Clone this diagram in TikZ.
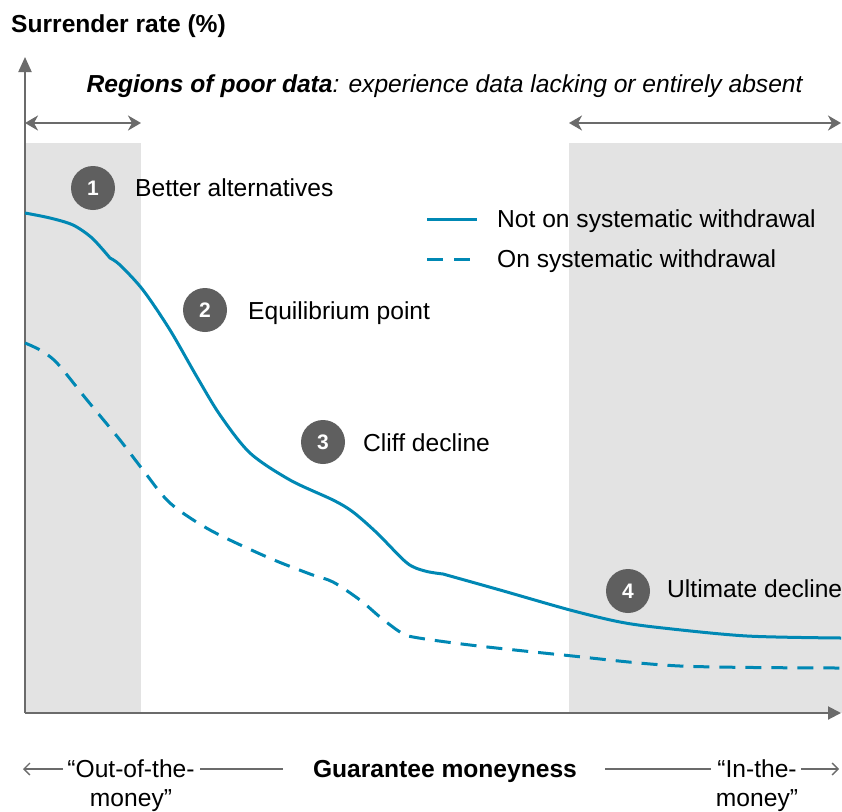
\documentclass[tikz,border=0pt]{standalone}
\usepackage{fontspec}
\setmainfont{Liberation Sans}
\usetikzlibrary{arrows.meta}

\definecolor{curveblue}{HTML}{0088B4}
\definecolor{poorgray}{HTML}{E3E3E3}
\definecolor{axisgray}{HTML}{6B6B6B}
\definecolor{dotgray}{HTML}{5F5F5F}

\begin{document}
\begin{tikzpicture}[x=1pt, y=-1pt,
  txt/.style={font=\fontsize{24.6}{29}\selectfont, inner sep=0pt},
  num/.style={circle, fill=dotgray, minimum size=44pt, inner sep=0pt, text=white, font=\fontsize{21}{24}\selectfont\bfseries},
  axis/.style={draw=axisgray, line width=2pt},
  span/.style={draw=axisgray, line width=2pt, {Stealth[length=13pt,width=15pt,inset=4pt]}-{Stealth[length=13pt,width=15pt,inset=4pt]}},
  guide/.style={draw=axisgray, line width=1.3pt},
  rate/.style={draw=curveblue, line width=3pt},
  swrate/.style={rate, dash pattern=on 16pt off 10pt}]
  \useasboundingbox (0,0) rectangle (842,811);

  % regions of poor data
  \fill[poorgray] (25,143) rectangle (141,713);
  \fill[poorgray] (569,143) rectangle (842,713);

  % axes
  \coordinate (O) at (25,713);
  \coordinate (Y) at (25,57);
  \coordinate (X) at (841,713);
  \draw[axis, -{Triangle[length=15pt,width=13pt]}] (O) -- (Y);
  \draw[axis, -{Triangle[length=13pt,width=13pt]}] (O) -- (X);

  \node[txt, anchor=base west] (T) at (11,32) {\textbf{Surrender rate (\%)}};
  \node[txt, anchor=base] (R) at (445,92) {\textit{\textbf{Regions of poor data}: experience data lacking or entirely absent}};

  \coordinate (L1) at (25,123);
  \coordinate (L2) at (141,123);
  \coordinate (R1) at (569,123);
  \coordinate (R2) at (841,123);
  \draw[span] (L1) -- (L2);
  \draw[span] (R1) -- (R2);

  % curves
  \draw[rate] plot[smooth] coordinates {(25,213) (50,218) (73,225) (92,238) (110,258)}
    -- plot[smooth] coordinates {(110,258) (120,265) (143,290) (170,330) (197,377) (220,415) (250,453) (290,480) (333,500) (353,512) (377,533) (407,563) (425,571) (443,574)}
    -- plot[smooth] coordinates {(443,574) (500,590) (570,610) (620,622) (663,628) (747,636) (841,638)};
  \draw[swrate] plot[smooth] coordinates {(25,343) (40,350) (57,363) (87,400) (120,440) (143,470) (170,503) (210,530) (267,557) (310,574) (333,582) (360,600) (380,617) (400,632) (413,637) (470,645) (563,655) (680,666) (840,668)};

  % legend
  \coordinate (A1) at (427,219);
  \coordinate (A2) at (477,219);
  \coordinate (B1) at (427,259);
  \coordinate (B2) at (471,259);
  \draw[rate] (A1) -- (A2);
  \draw[swrate, dash pattern=on 16pt off 11pt] (B1) -- (B2);
  \node[txt, anchor=base west] (NS) at (497,227) {Not on systematic withdrawal};
  \node[txt, anchor=base west] (S) at (497,267) {On systematic withdrawal};

  % numbered points
  \node[num] (C1) at (93,188) {1};
  \node[txt, anchor=base west] (D1) at (135,196) {Better alternatives};
  \node[num] (C2) at (205,310) {2};
  \node[txt, anchor=base west] (D2) at (248,319) {Equilibrium point};
  \node[num] (C3) at (323,442) {3};
  \node[txt, anchor=base west] (D3) at (363,451) {Cliff decline};
  \node[num] (C4) at (628,591) {4};
  \node[txt, anchor=base west] (D4) at (667,597) {Ultimate decline};

  % moneyness
  \node[txt, anchor=base] (G) at (445,777) {\textbf{Guarantee moneyness}};
  \node[txt, align=center, anchor=base] (OM) at (131,806) {``Out-of-the-\\money''};
  \node[txt, align=center, anchor=base] (IM) at (757,806) {``In-the-\\money''};
  \coordinate (E1) at (63,769);
  \coordinate (E2) at (23,769);
  \coordinate (F1) at (200,769);
  \coordinate (F2) at (283,769);
  \coordinate (H1) at (605,769);
  \coordinate (H2) at (711,769);
  \coordinate (K1) at (801,769);
  \coordinate (K2) at (839,769);
  \draw[guide, -{Straight Barb[length=6pt,width=12pt]}] (E1) -- (E2);
  \draw[guide] (F1) -- (F2);
  \draw[guide] (H1) -- (H2);
  \draw[guide, -{Straight Barb[length=6pt,width=12pt]}] (K1) -- (K2);
\end{tikzpicture}
\end{document}
